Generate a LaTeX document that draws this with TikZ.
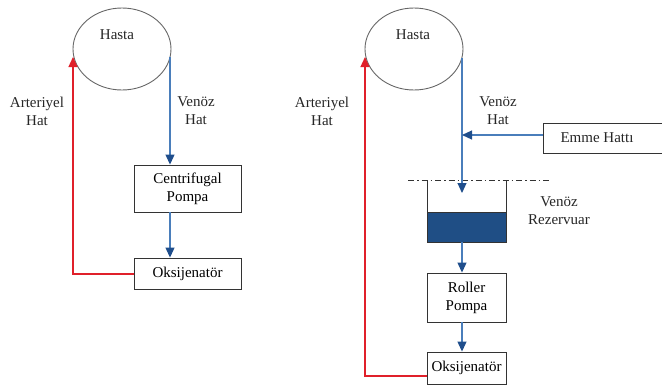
\documentclass[tikz,border=0pt]{standalone}
\usepackage{fontspec}
\setmainfont{Liberation Serif}
\usetikzlibrary{arrows.meta,shapes.geometric}
\definecolor{lineblue}{HTML}{4A7EBB}
\definecolor{darkblue}{HTML}{1F4E8C}
\definecolor{fillblue}{HTML}{1F4E85}
\definecolor{artred}{HTML}{E0202A}
\definecolor{boxgray}{HTML}{333333}
\tikzset{
  txt/.style={font=\rmfamily\fontsize{15}{18}\selectfont, align=center, inner sep=0pt, text=black!85},
  boxnode/.style={draw=boxgray, line width=0.9pt, rectangle, inner sep=0pt, font=\rmfamily\fontsize{15}{18}\selectfont, align=center},
  patient/.style={draw=gray!80!black, line width=0.9pt, ellipse, minimum width=98pt, minimum height=82pt, inner sep=0pt},
  ven/.style={draw=lineblue, line width=1.1pt, -{Triangle[length=10pt,width=9pt,color=darkblue,fill=darkblue]}},
  art/.style={draw=artred, line width=1.2pt, -{Triangle[length=10pt,width=9pt,color=artred,fill=artred]}},
}
\begin{document}
\begin{tikzpicture}[x=1pt,y=-1pt]
\useasboundingbox (0,0) rectangle (662,386);
% ---------- left diagram ----------
\node[patient] (h1) at (122,49) {};
\node[txt] (h1t) at (117,35) {Hasta};
\node[boxnode, minimum width=107pt, minimum height=47pt] (cp) at (187.5,188.5) {Centrifugal\\Pompa};
\node[boxnode, minimum width=107pt, minimum height=31pt] (ox1) at (187.5,273.5) {Oksijenatör};
\coordinate (v1) at (170,57);
\coordinate (a1) at (73,57);
\draw[ven] (v1) -- (v1 |- cp.north);
\draw[ven] (cp.south -| v1) -- (v1 |- ox1.north);
\draw[art] (ox1.west |- 0,274) -| (a1);
\node[txt] (al1) at (37,111) {Arteriyel\\Hat};
\node[txt] (vl1) at (196,111) {Venöz\\Hat};
% ---------- right diagram ----------
\node[patient] (h2) at (414,49) {};
\node[txt] (h2t) at (413,35) {Hasta};
\coordinate (v2) at (462,58);
\coordinate (a2) at (365,57);
\node[boxnode, minimum width=119pt, minimum height=30pt] (em) at (602.5,138) {};
\node[txt] (emt) at (597,138) {Emme Hattı};
\node[txt] (vl2) at (498,111) {Venöz\\Hat};
\node[txt] (al2) at (322,111) {Arteriyel\\Hat};
% reservoir
\draw[boxgray, line width=0.8pt, dash pattern=on 6pt off 3pt on 1.5pt off 3pt] (408,180) -- (552,180);
\fill[fillblue] (427,212) rectangle (506,242);
\draw[boxgray, line width=0.9pt] (427,180) -- (427,242) -- (506,242) -- (506,180);
\draw[boxgray, line width=0.6pt] (427,212) -- (506,212);
\coordinate (rt) at (462,193);
\coordinate (rb) at (462,242);
\node[txt] (rl) at (559,211) {Venöz\\Rezervuar};
\node[boxnode, minimum width=79pt, minimum height=49pt] (rp) at (466.5,297.5) {Roller\\Pompa};
\node[boxnode, minimum width=79pt, minimum height=32pt] (ox2) at (466.5,368) {Oksijenatör};
\draw[ven] (v2) -- (rt);
\draw[ven] (em.west |- 0,135) -- (462,135);
\draw[ven] (rb) -- (rb |- rp.north);
\draw[ven] (rp.south -| rb) -- (rb |- ox2.north);
\draw[art] (ox2.west |- 0,376) -| (a2);
\end{tikzpicture}
\end{document}
